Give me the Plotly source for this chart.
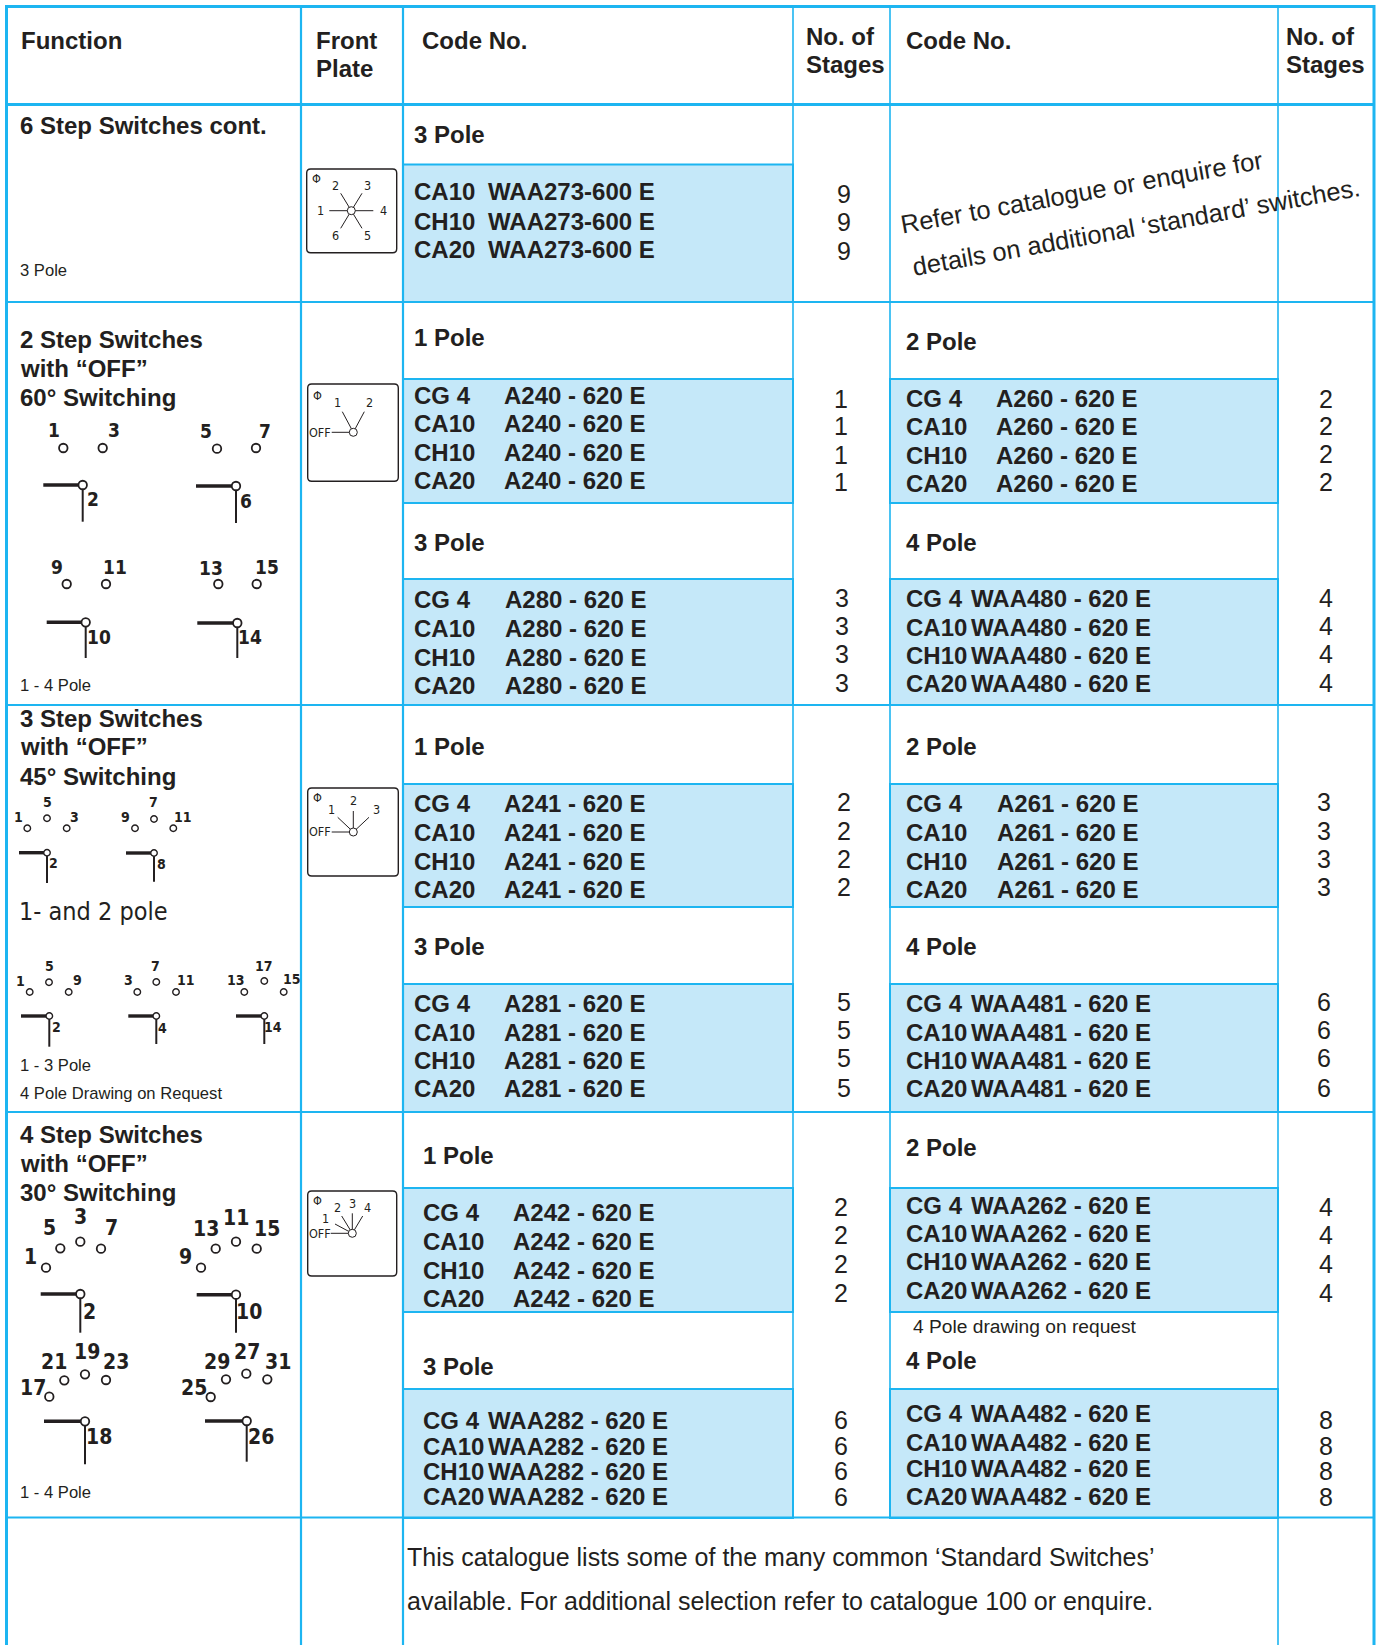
import plotly.graph_objects as go

# ---------------- data -----------------
HEADERS = ["Function", "Front", "Plate", "Code No.", "No. of", "Stages"]
PREFIX4 = ["CG 4", "CA10", "CH10", "CA20"]
PREFIX3 = ["CA10", "CH10", "CA20"]
STAGES_6STEP = [9, 9, 9]
PARTS = {
    "r1a": "WAA273-600 E", "r2a": "A240 - 620 E", "r2b": "A260 - 620 E", "r2c": "A280 - 620 E", "r2d": "WAA480 - 620 E",
    "r3a": "A241 - 620 E", "r3b": "A261 - 620 E", "r3c": "A281 - 620 E", "r3d": "WAA481 - 620 E",
    "r4a": "A242 - 620 E", "r4b": "WAA262 - 620 E", "r4c": "WAA282 - 620 E", "r4d": "WAA482 - 620 E",
}
SIDE_TITLES = [["6 Step Switches cont."],
               ["2 Step Switches", "with “OFF”", "60° Switching"],
               ["3 Step Switches", "with “OFF”", "45° Switching"],
               ["4 Step Switches", "with “OFF”", "30° Switching"]]
FOOTER = ["This catalogue lists some of the many common ‘Standard Switches’",
          "available. For additional selection refer to catalogue 100 or enquire."]
REFER = ["Refer to catalogue or enquire for", "details on additional ‘standard’ switches."]

# ---------------- style -----------------
S = 1376 / 1312
INK = "#231f20"
LINE = "#1db5f1"
FILL = "#c5e8f9"
SANS = "Liberation Sans"
NARROW = "DejaVu Sans Condensed, Liberation Sans"
W, H = 1376, 1645
BODY = 24
REG = 25
SMALL = 16.6

ann, shapes = [], []


def t(x, y, s, size=BODY, bold=True, anchor="left", angle=0, font=SANS, color=INK):
    txt = f"<b>{s}</b>" if bold else s
    ann.append(dict(x=x, y=y, text=txt, showarrow=False, xanchor=anchor, yanchor="middle",
                    xref="x", yref="y", borderpad=0, textangle=angle,
                    font=dict(family=font, size=size, color=color)))


def ts(x, y, s, **k):  # position read on the shrunk picture
    t(x * S, y * S, s, **k)


# blue blocks
X1a, X1b, X2a, X2b = 403, 793, 890, 1278
blocks = [(X1a, X1b, 164.5, 302), (X1a, X1b, 379, 503), (X1a, X1b, 579, 705),
          (X1a, X1b, 784, 907), (X1a, X1b, 984, 1112), (X1a, X1b, 1188, 1312), (X1a, X1b, 1389, 1518),
          (X2a, X2b, 379, 503), (X2a, X2b, 579, 705), (X2a, X2b, 784, 907), (X2a, X2b, 984, 1112),
          (X2a, X2b, 1188, 1312), (X2a, X2b, 1389, 1518)]
for a, b, c, d in blocks:
    shapes.append(dict(type="rect", x0=a, x1=b, y0=c, y1=d, xref="x", yref="y", layer="below",
                       fillcolor=FILL, line=dict(color=LINE, width=2)))


def grid(x0, y0, x1, y1, w=2):
    shapes.append(dict(type="line", x0=x0, x1=x1, y0=y0, y1=y1, xref="x", yref="y", layer="below",
                       line=dict(color=LINE, width=w)))


for y, w in [(6.5, 3), (104.5, 3), (302, 2), (705, 2), (1112, 2), (1517.5, 2)]:
    grid(5, y, 1375, y, w)
grid(6.5, 5, 6.5, H, 3)
grid(301, 5, 301, H, 2.2)
grid(403, 5, 403, H, 2.2)
grid(793, 5, 793, 1518, 1.6)
grid(890, 5, 890, 1518, 1.6)
grid(1278, 5, 1278, H, 1.6)
grid(1374, 5, 1374, H, 3)

# header
t(19.5, 40, HEADERS[0])
t(315, 40, HEADERS[1])
t(315, 68, HEADERS[2])
t(420.5, 40, HEADERS[3])
t(804.5, 36, HEADERS[4])
t(804.5, 64, HEADERS[5])
t(905, 40, HEADERS[3])
t(1284.5, 36, HEADERS[4])
t(1284.5, 64, HEADERS[5])

# left titles
for title, ys in zip(SIDE_TITLES, [[120], [324, 351, 379], [685, 712, 740], [1082, 1109, 1137]]):
    for s, y in zip(title, ys):
        ts(18.5, y, s)
ts(18.5, 258, "3 Pole", size=SMALL, bold=False)
ts(18.5, 654, "1 - 4 Pole", size=SMALL, bold=False)
ts(18.5, 1015.5, "1 - 3 Pole", size=SMALL, bold=False)
ts(18.5, 1043, "4 Pole Drawing on Request", size=SMALL, bold=False)
ts(18.5, 1423, "1 - 4 Pole", size=SMALL, bold=False)
t(18, 911.5, "1- and 2 pole", size=25, bold=False, font=NARROW)


def block(label, lx, ly, prefixes, part, px, qx, rows, stage, sx, sy):
    ts(lx, ly, label)
    for p, y in zip(prefixes, rows):
        ts(px, y, p)
        ts(qx, y, part)
    for v, y in zip(stage, sy):
        ts(sx, y, str(v), bold=False, anchor="center", size=REG)


block("3 Pole", 394, 128.5, PREFIX3, PARTS["r1a"], 394, 464, [183, 211, 237.5], STAGES_6STEP, 804.5, [185, 212, 239])
block("1 Pole", 394, 322, PREFIX4, PARTS["r2a"], 394, 480, [377, 404, 431, 458], [1, 1, 1, 1], 801.5, [380, 406, 434, 460])
block("2 Pole", 863, 326, PREFIX4, PARTS["r2b"], 863, 949, [380, 407, 434, 461], [2, 2, 2, 2], 1264.5, [380, 406, 433, 460])
block("3 Pole", 394, 517, PREFIX4, PARTS["r2c"], 394, 481, [572, 599, 627, 654], [3, 3, 3, 3], 803, [570, 597, 624, 651])
block("4 Pole", 863, 517, PREFIX4, PARTS["r2d"], 863, 925, [571, 598, 625, 652], [4, 4, 4, 4], 1264.5, [570, 597, 624, 651])
block("1 Pole", 394, 712, PREFIX4, PARTS["r3a"], 394, 480, [766, 794, 821, 848], [2, 2, 2, 2], 804.5, [765, 792, 819, 846])
block("2 Pole", 863, 712, PREFIX4, PARTS["r3b"], 863, 950, [766, 794, 821, 848], [3, 3, 3, 3], 1262.5, [765, 792, 819, 846])
block("3 Pole", 394, 902, PREFIX4, PARTS["r3c"], 394, 480, [957, 984, 1011, 1038], [5, 5, 5, 5], 804.5, [955, 982, 1009, 1037])
block("4 Pole", 863, 902, PREFIX4, PARTS["r3d"], 863, 925, [957, 984, 1011, 1038], [6, 6, 6, 6], 1262.5, [955, 982, 1009, 1037])
block("1 Pole", 402, 1102, PREFIX4, PARTS["r4a"], 402, 488, [1156, 1184, 1211, 1238], [2, 2, 2, 2], 801.5, [1151, 1178, 1205, 1233])
block("2 Pole", 863, 1094, PREFIX4, PARTS["r4b"], 863, 925, [1149, 1176, 1203, 1230], [4, 4, 4, 4], 1264.5, [1151, 1178, 1205, 1233])
block("3 Pole", 402, 1303, PREFIX4, PARTS["r4c"], 402, 464, [1354, 1379, 1403, 1427], [6, 6, 6, 6], 801.5, [1354, 1379, 1403, 1427])
block("4 Pole", 863, 1297, PREFIX4, PARTS["r4d"], 863, 925, [1348, 1375, 1400, 1427], [8, 8, 8, 8], 1264.5, [1354, 1379, 1403, 1427])
ts(870, 1265, "4 Pole drawing on request", size=19.2, bold=False)

for s, y in zip(FOOTER, [1485, 1527]):
    ts(387, y, s, bold=False, size=REG)
ts(1032, 183, REFER[0], bold=False, anchor="center", angle=-10.2, size=25.5)
ts(1083.5, 216, REFER[1], bold=False, anchor="center", angle=-10.2, size=25.5)

# ---------------- terminal sketches -----------------
thin_x, thin_y, thick_x, thick_y = [], [], [], []
big_x, big_y, small_x, small_y = [], [], [], []


def sketch(labels, circles, pivot, left, bottom, tag, fs, big=True):
    for s, lx, ly in labels:
        t(lx, ly, s, size=fs, font=NARROW, anchor="center")
    cx = big_x if big else small_x
    cy = big_y if big else small_y
    for a, b in circles + [pivot]:
        cx.append(a)
        cy.append(b)
    thick_x.extend([left, pivot[0], None])
    thick_y.extend([pivot[1], pivot[1], None])
    thin_x.extend([pivot[0], pivot[0], None])
    thin_y.extend([pivot[1], bottom, None])
    t(tag[1], tag[2], tag[0], size=fs, font=NARROW, anchor="center")


f2 = 19
sketch([("1", 54, 430), ("3", 114, 430)], [(63.3, 448), (102.7, 448)], (82.7, 485), 43.3, 521.7, ("2", 92.7, 499), f2)
sketch([("5", 206, 431), ("7", 265, 431)], [(217, 448.7), (256, 448)], (236, 486), 196, 523, ("6", 245.7, 500.7), f2)
sketch([("9", 57, 566.7), ("11", 115, 566.7)], [(66.7, 584), (106, 584)], (85.7, 622.3), 46.7, 658, ("10", 99, 636.7), f2)
sketch([("13", 210.7, 567.5), ("15", 266.7, 566.7)], [(218.3, 584), (256.7, 584)], (237.3, 623), 197.3, 658, ("14", 250, 637.3), f2)
f3 = 14
sketch([("1", 18.3, 816.7), ("5", 47, 802), ("3", 74.3, 816.7)], [(27.3, 828.3), (47, 818.3), (66.7, 828.3)], (47, 852.7), 19, 883, ("2", 53.3, 863.3), f3, False)
sketch([("9", 125.3, 816.7), ("7", 153, 802), ("11", 182.7, 816.7)], [(135, 828.3), (154, 819), (173.3, 828.3)], (154, 853), 126, 881.7, ("8", 161, 863.7), f3, False)
sketch([("1", 20, 981), ("5", 49.3, 966), ("9", 77.7, 980)], [(29.7, 992), (49, 982.3), (68.7, 992)], (49.3, 1016), 21, 1046.7, ("2", 56, 1026.7), f3, False)
sketch([("3", 128.7, 980), ("7", 155, 966), ("11", 185.7, 980)], [(137.3, 992), (156.3, 982), (176, 992)], (156.3, 1016), 128.3, 1044, ("4", 162.7, 1028), f3, False)
sketch([("13", 236, 980), ("17", 264, 965.7), ("15", 292, 979)], [(244.3, 992), (264.3, 981), (283.7, 992)], (264.3, 1016), 236, 1044, ("14", 272.7, 1027), f3, False)
f4 = 21
sketch([("1", 30, 1256.7), ("5", 49.3, 1228.3), ("3", 80.7, 1217.3), ("7", 111.7, 1228.3)], [(46, 1267.7), (60.3, 1248.3), (80.3, 1241.7), (101, 1248.7)], (80.3, 1294), 40.7, 1332.7, ("2", 89.3, 1312), f4)
sketch([("9", 185.3, 1256.7), ("13", 206, 1228.7), ("11", 236, 1218), ("15", 267, 1228.7)], [(201, 1267.7), (215.7, 1248.7), (236, 1241.7), (256.7, 1248.7)], (236, 1294.7), 196.7, 1332.7, ("10", 249.3, 1312), f4)
sketch([("17", 33.3, 1387.7), ("21", 54, 1361.7), ("19", 86.7, 1352.3), ("23", 115.7, 1361.7)], [(49.3, 1396.7), (64.3, 1380.3), (85, 1374.3), (106, 1380)], (85, 1421.3), 44, 1464.3, ("18", 98.7, 1436.7), f4)
sketch([("25", 194.3, 1388), ("29", 216.7, 1362), ("27", 246.7, 1352), ("31", 278, 1362)], [(210.7, 1397), (226, 1379.3), (246.3, 1373.7), (267.3, 1379.3)], (246.7, 1421), 205, 1461.7, ("26", 261, 1436.7), f4)

# ---------------- front plates -----------------
plate_x, plate_y, hub_x, hub_y = [], [], [], []


def plate(x0, x1, y0, y1, hub, labels, spokes):
    r = 4
    path = (f"M{x0+r},{y0} L{x1-r},{y0} Q{x1},{y0} {x1},{y0+r} L{x1},{y1-r} Q{x1},{y1} {x1-r},{y1} "
            f"L{x0+r},{y1} Q{x0},{y1} {x0},{y1-r} L{x0},{y0+r} Q{x0},{y0} {x0+r},{y0} Z")
    shapes.append(dict(type="path", path=path, xref="x", yref="y", layer="below",
                       line=dict(color=INK, width=1.4), fillcolor="white"))
    for s, lx, ly, fs in labels:
        t(lx, ly, s, size=fs, bold=False, font=NARROW, anchor="center")
    for a, b in spokes:
        plate_x.extend([hub[0], a, None])
        plate_y.extend([hub[1], b, None])
    hub_x.append(hub[0])
    hub_y.append(hub[1])


pf = 12.5
plate(306.7, 396.7, 169, 252.7, (351.3, 210.7),
      [("Φ", 316, 178, pf), ("2", 335.7, 185, pf), ("3", 367.7, 185, pf), ("1", 320, 210.3, pf),
       ("4", 383.3, 210.3, pf), ("6", 335.7, 235.7, pf), ("5", 367.7, 235.7, pf)],
      [(329.3, 210.7), (373.3, 210.7), (340.7, 193.3), (362, 193.3), (340.7, 228.3), (362, 228.3)])
plate(307.7, 398.3, 384, 481.3, (353.3, 432.3),
      [("Φ", 317, 395, pf), ("1", 337.7, 402.3, pf), ("2", 369, 402.3, pf), ("OFF", 320, 432.3, pf)],
      [(331.7, 432.3), (342.3, 411.7), (364.3, 411.7)])
plate(307.7, 398.3, 788, 876, (353.3, 832),
      [("Φ", 317, 797.7, pf), ("1", 331, 809.3, pf), ("2", 353.3, 800.3, pf), ("3", 376, 809.3, pf), ("OFF", 320.3, 831.7, pf)],
      [(331.7, 832), (337.7, 817.3), (353.3, 811), (369, 817.3)])
plate(307.7, 396.7, 1191, 1276, (352.3, 1233.3),
      [("Φ", 317, 1200.7, pf), ("1", 325.7, 1218.3, pf), ("2", 337, 1207.3, pf), ("3", 352.3, 1203.3, pf),
       ("4", 367.7, 1207.3, pf), ("OFF", 320, 1233.3, pf)],
      [(330.7, 1233.3), (335, 1224), (341.7, 1216), (352.3, 1213.3), (362.7, 1216)])

fig = go.Figure()
fig.add_trace(go.Scatter(x=plate_x, y=plate_y, mode="lines", line=dict(color=INK, width=1), hoverinfo="skip"))
fig.add_trace(go.Scatter(x=thin_x, y=thin_y, mode="lines", line=dict(color=INK, width=2), hoverinfo="skip"))
fig.add_trace(go.Scatter(x=thick_x, y=thick_y, mode="lines", line=dict(color=INK, width=3.4), hoverinfo="skip"))
fig.add_trace(go.Scatter(x=hub_x, y=hub_y, mode="markers", hoverinfo="skip",
                         marker=dict(size=8, color="white", line=dict(color=INK, width=1))))
fig.add_trace(go.Scatter(x=big_x, y=big_y, mode="markers", hoverinfo="skip",
                         marker=dict(size=8.5, color="white", line=dict(color=INK, width=1.8))))
fig.add_trace(go.Scatter(x=small_x, y=small_y, mode="markers", hoverinfo="skip",
                         marker=dict(size=6.5, color="white", line=dict(color=INK, width=1.4))))

fig.update_layout(width=W, height=H, margin=dict(l=0, r=0, t=0, b=0), autosize=False,
                  paper_bgcolor="white", plot_bgcolor="white", showlegend=False,
                  shapes=shapes, annotations=ann,
                  xaxis=dict(range=[0, W], visible=False, fixedrange=True),
                  yaxis=dict(range=[H, 0], visible=False, fixedrange=True))
fig.write_html("out.html", config=dict(displayModeBar=False),
               post_script="document.body.style.margin='0';document.documentElement.style.overflow='hidden';")
